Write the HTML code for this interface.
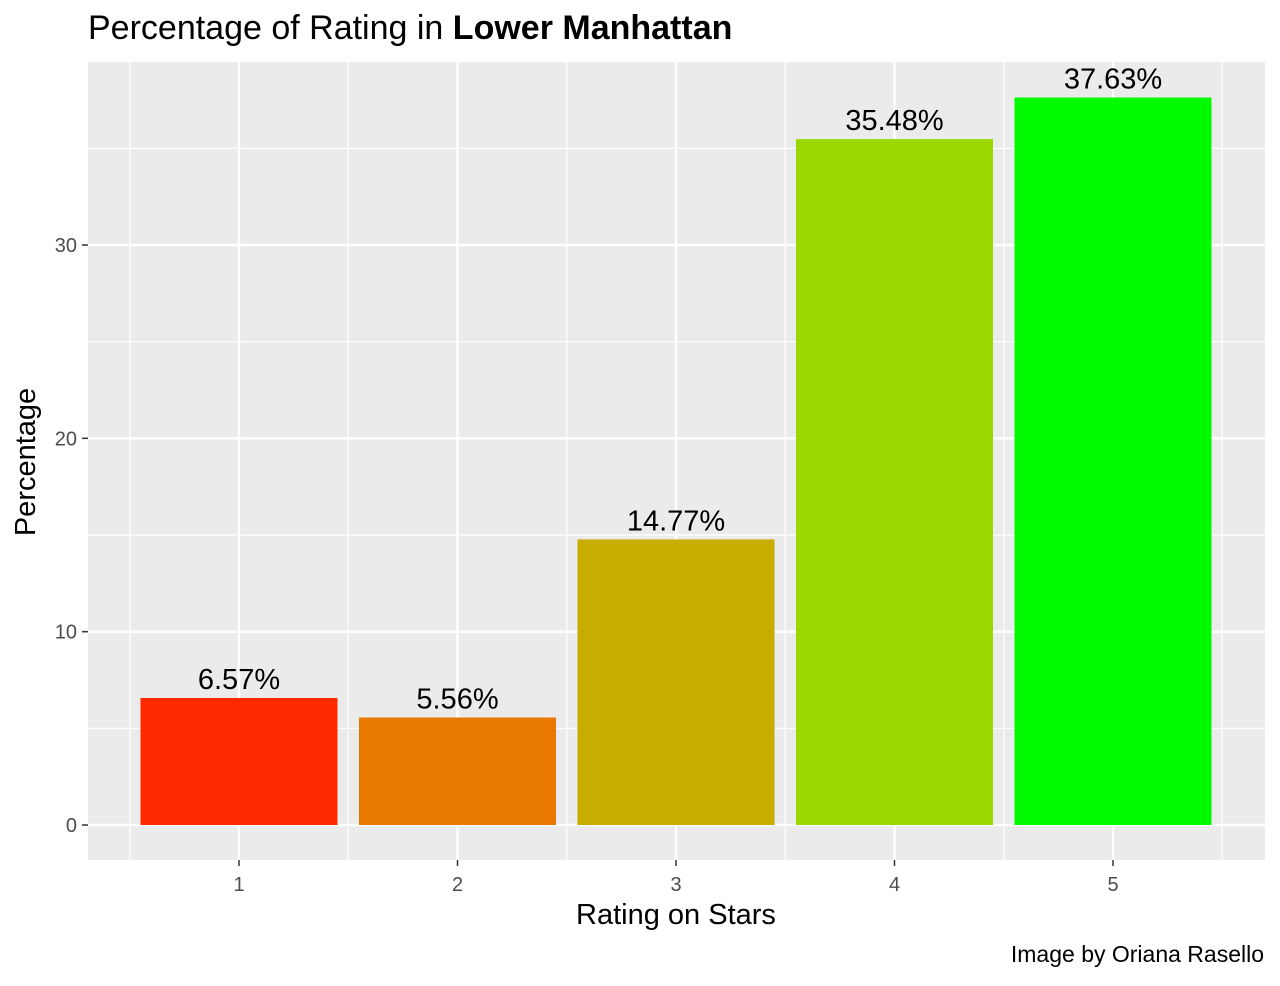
<!DOCTYPE html>
<html><head><meta charset="utf-8"><style>
body{margin:0;background:#fff;}
svg text{font-family:"Liberation Sans",Arial,sans-serif;}
</style></head><body>
<svg id="chart" width="1280" height="981" xmlns="http://www.w3.org/2000/svg">
<text x="88" y="39" font-size="34" fill="#000">Percentage of Rating in <tspan font-weight="bold">Lower Manhattan</tspan></text>
<rect x="88" y="62" width="1177" height="798" fill="#ebebeb"/>
<g id="grid"></g>
<g id="bars"></g>
<g id="axes"></g>
<text x="676" y="924" font-size="29" text-anchor="middle" fill="#000">Rating on Stars</text>
<text transform="translate(35,462) rotate(-90)" font-size="29" text-anchor="middle" fill="#000">Percentage</text>
<text x="1264" y="962" font-size="23" text-anchor="end" fill="#000">Image by Oriana Rasello</text>
</svg>
<script>
const categories=["1","2","3","4","5"];
const values=[6.57,5.56,14.77,35.48,37.63];
const labels=["6.57%","5.56%","14.77%","35.48%","37.63%"];
const colors=["#ff2a00","#e87800","#c8ac00","#9bd700","#00fa00"];
const yTicks=[0,10,20,30];
const yMinor=[5,15,25,35];
const NS="http://www.w3.org/2000/svg";
const y=v=>825-v*19.333;
const x=i=>239+i*218.5;
const bw=197;
function mk(tag,attrs,parent){const e=document.createElementNS(NS,tag);for(const k in attrs)e.setAttribute(k,attrs[k]);parent.appendChild(e);return e;}
const grid=document.getElementById('grid'),bars=document.getElementById('bars'),axes=document.getElementById('axes');
yMinor.forEach(v=>{const l=mk('line',{x1:88,x2:1265,y1:y(v),y2:y(v),stroke:'#fff','stroke-width':1.2},grid);

});
for(let i=-0.5;i<categories.length;i++){const l=mk('line',{x1:x(i),x2:x(i),y1:62,y2:860,stroke:'#fff','stroke-width':1.2},grid);

}
yTicks.forEach(v=>{const l=mk('line',{x1:88,x2:1265,y1:y(v),y2:y(v),stroke:'#fff','stroke-width':2.4},grid);


const t=mk('line',{x1:82,x2:88,y1:y(v),y2:y(v),stroke:'#333','stroke-width':1.5},axes);


const tx=mk('text',{x:77,y:y(v)+7,'font-size':20,'text-anchor':'end',fill:'#4d4d4d'},axes);tx.textContent=v;

});
categories.forEach((c,i)=>{const l=mk('line',{x1:x(i),x2:x(i),y1:62,y2:860,stroke:'#fff','stroke-width':2.4},grid);


const t=mk('line',{x1:x(i),x2:x(i),y1:860,y2:866,stroke:'#333','stroke-width':1.5},axes);


const tx=mk('text',{x:x(i),y:891,'font-size':20,'text-anchor':'middle',fill:'#4d4d4d'},axes);tx.textContent=c;


const r=mk('rect',{x:x(i)-bw/2,y:y(values[i]),width:bw,height:y(0)-y(values[i]),fill:colors[i]},bars);


const lb=mk('text',{x:x(i),y:y(values[i])-9,'font-size':29,'text-anchor':'middle',fill:'#000'},bars);lb.textContent=labels[i];

});
</script>
</body></html>
